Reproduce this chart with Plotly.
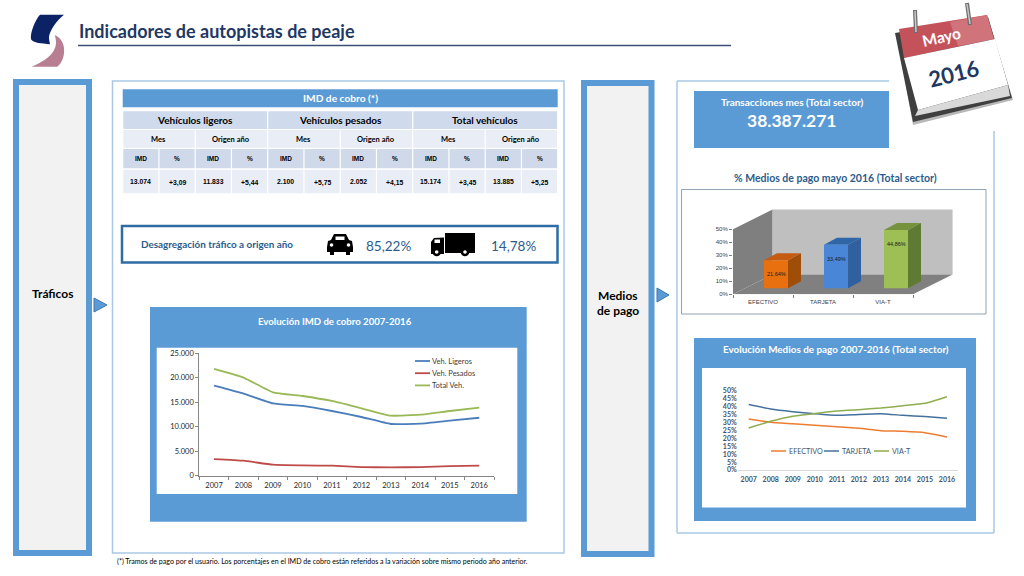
import plotly.graph_objects as go

W, H = 1024, 576
BLUE = "#5B9BD5"
LIGHT = "#A9C8E6"
NAVY = "#1F3864"
TEAL = "#2B5C8C"
SANS = "Lato"
ARIAL = "Liberation Sans"

years = ["2007", "2008", "2009", "2010", "2011", "2012", "2013", "2014", "2015", "2016"]

# IMD de cobro
imd_names = ["Veh. Ligeros", "Veh. Pesados", "Total Veh."]
imd_colors = ["#4A7EBB", "#BE4B48", "#98B954"]
ligeros = [18390, 16760, 14780, 14240, 13215, 11990, 10560, 10630, 11240, 11833]
pesados = [3400, 3065, 2250, 2110, 2040, 1770, 1700, 1770, 1975, 2052]
total = [21800, 20030, 17030, 16280, 15260, 13760, 12260, 12470, 13215, 13885]

# medios de pago
pago_names = ["EFECTIVO", "TARJETA", "VIA-T"]
pago_colors = ["#ED7D31", "#44719C", "#8FAD4F"]
efectivo = [32.3, 30.2, 29.3, 28.3, 27.4, 26.4, 24.9, 24.5, 23.6, 20.9]
tarjeta = [41.4, 38.6, 36.9, 35.6, 34.6, 35.2, 35.6, 34.6, 33.8, 32.7]
via_t = [26.6, 30.8, 34.0, 35.7, 37.3, 38.2, 39.2, 40.7, 42.2, 46.4]

mayo_pct = [21.64, 33.49, 44.86]
mayo_ticks = [0, 10, 20, 30, 40, 50]
bar_front = ["#E8700F", "#4A86D8", "#9DBF55"]
bar_side = ["#A04D08", "#30609F", "#5F7A33"]
bar_top = ["#C55A11", "#2E66A8", "#76923C"]

# tabla
grupos = ["Vehículos ligeros", "Vehículos pesados", "Total vehículos"]
periodos = ["Mes", "Origen año"] * 3
columnas = ["IMD", "%"] * 6
valores = ["13.074", "+3,09", "11.833", "+5,44", "2.100", "+5,75", "2.052", "+4,15",
           "15.174", "+3,45", "13.885", "+5,25"]

shapes = []
notes = []


def px(x):
    return x / W


def py(y):
    return 1 - y / H


def rect(x0, y0, x1, y1, fill=None, line=None, lw=1, layer="below"):
    shapes.append(dict(type="rect", xref="paper", yref="paper", x0=px(x0), x1=px(x1), y0=py(y0), y1=py(y1),
                       fillcolor=fill or "rgba(0,0,0,0)", line=dict(color=line or "rgba(0,0,0,0)", width=lw if line else 0),
                       layer=layer))


def seg(x0, y0, x1, y1, color, lw=1, layer="below"):
    shapes.append(dict(type="line", xref="paper", yref="paper", x0=px(x0), x1=px(x1), y0=py(y0), y1=py(y1),
                       line=dict(color=color, width=lw), layer=layer))


def poly(d, fill, line=None, layer="below"):
    # d is an svg path written in screen pixels, "M x y L x y ..."
    out = []
    nums = d.split()
    i = 0
    while i < len(nums):
        if nums[i] in "MLCZ":
            out.append(nums[i])
            i += 1
        else:
            out.append(f"{px(float(nums[i])):.5f},{py(float(nums[i + 1])):.5f}")
            i += 2
    shapes.append(dict(type="path", xref="paper", yref="paper", path=" ".join(out), fillcolor=fill,
                       line=dict(color=line or "rgba(0,0,0,0)", width=1 if line else 0), layer=layer))


def circle(cx, cy, r, fill, layer="below"):
    shapes.append(dict(type="circle", xref="paper", yref="paper", x0=px(cx - r), x1=px(cx + r), y0=py(cy - r),
                       y1=py(cy + r), fillcolor=fill, line=dict(width=0), layer=layer))


def txt(x, y, s, size, color="black", bold=False, anchor="center", font=SANS, angle=0):
    notes.append(dict(xref="paper", yref="paper", x=px(x), y=py(y), text=f"<b>{s}</b>" if bold else s,
                      showarrow=False, xanchor=anchor, yanchor="middle", textangle=angle, borderpad=0,
                      font=dict(size=size, color=color, family=font)))


def dom(a, b):
    return [a / W, b / W]


def domy(top, bottom):
    return [1 - bottom / H, 1 - top / H]


# cabecera
poly("M 40 14.7 L 64 14.7 C 57 20 50 30 49 36.7 C 48.7 40 50 42.7 50 44.3 C 41.7 43.3 33.3 43.3 31 39.3 "
     "C 30 33 35 20 40 14.7 Z", "#0B2265")
poly("M 55 35 C 61.7 38.3 65 45 64 53.3 C 63.3 60 60 65 57.3 66.7 L 31.7 66.7 C 43.3 61.7 55 55 56 43.3 "
     "C 56 39.3 55 36.7 55 35 Z", "#B87F92")
txt(77.5, 31, "Indicadores de autopistas de peaje", 18, NAVY, True, "left")
seg(78, 45.5, 731, 45.5, "#3B4F74", 1.5)

# panel traficos
rect(16, 82, 89, 553, "#F2F2F2", BLUE, 6)
txt(52, 293, "Tráficos", 12, "black", True)
poly("M 94 298 L 107 305 L 94 312 Z", BLUE, "#3F77AE")
rect(112.5, 81, 564, 553, "white", LIGHT, 1.5)

# tabla imd
tx0, cw = 122.7, 36.25
rect(tx0, 89.3, tx0 + 12 * cw, 107.3, BLUE)
txt(tx0 + 6 * cw, 98.5, "IMD de cobro (*)", 10.2, "white", True)
for i, g in enumerate(grupos):
    rect(tx0 + 4 * i * cw + 0.6, 111.3, tx0 + 4 * (i + 1) * cw - 0.6, 129, "#CFDAEC")
    txt(tx0 + (4 * i + 2) * cw, 120, g, 10, "black", True)
for i, p in enumerate(periodos):
    rect(tx0 + 2 * i * cw + 0.6, 130, tx0 + 2 * (i + 1) * cw - 0.6, 147.7, "#E9EDF5")
    txt(tx0 + (2 * i + 1) * cw, 139, p, 7.5, "black", True)
for i, c in enumerate(columnas):
    rect(tx0 + i * cw + 0.6, 149, tx0 + (i + 1) * cw - 0.6, 168.3, "#CFD9EA")
    txt(tx0 + (i + 0.5) * cw, 158.5, c, 6.5, "black", True, font=ARIAL)
for i, v in enumerate(valores):
    rect(tx0 + i * cw + 0.6, 169.7, tx0 + (i + 1) * cw - 0.6, 193.3, "#E9EDF5")
    # las celdas con "+" salen un poco mas altas
    txt(tx0 + (i + 0.5) * cw, 182.5 if v.startswith("+") else 181.5, v, 6.8, "black", True, font=ARIAL)

# desagregacion
rect(122, 226, 557.5, 262.5, "white", "#2E6CA4", 2.5)
txt(140, 244, "Desagregación tráfico a origen año", 9.9, TEAL, True, "left")
poly("M 327 247 L 328 241 L 331 240 L 334 234 L 346 234 L 349 240 L 352 241 L 353 247 L 353 252 L 350 252 "
     "L 350 255 L 346 255 L 346 252 L 334 252 L 334 255 L 330 255 L 330 252 L 327 252 Z", "black")
rect(335.5, 236.5, 344.5, 240, "white")
circle(331.5, 245, 1.8, "white")
circle(348.5, 245, 1.8, "white")
txt(388, 246, "85,22%", 13.5, TEAL, False)
rect(445, 233, 475, 253, "black")
poly("M 431 248 L 431 242 L 434 238 L 444 237.5 L 444 254 L 431 254 Z", "black")
rect(434.5, 239.5, 440, 243, "white")
for cx in (436.7, 465):
    circle(cx, 252, 4.3, "black")
    circle(cx, 252, 1.8, "white")
txt(513, 246, "14,78%", 13.5, TEAL, False)

# grafico imd
rect(150, 307, 526.7, 521.7, BLUE)
txt(335, 321, "Evolución IMD de cobro 2007-2016", 9.6, "white", True)
rect(156.7, 347.7, 517.3, 494, "white")
for i, n in enumerate(imd_names):
    y = 361 + i * 12.2
    seg(415, y, 430, y, imd_colors[i], 1.8)
    txt(431, y, n, 7.5, "#404040", False, "left")

# panel medios de pago
rect(584, 83, 651.5, 554, "#F2F2F2", BLUE, 6)
txt(618, 295, "Medios", 12, "black", True)
txt(618, 310, "de pago", 12, "black", True)
poly("M 657 288 L 669 295 L 657 302 Z", BLUE, "#3F77AE")
seg(677, 81, 889, 81, LIGHT, 1.5)
seg(677, 81, 677, 533, LIGHT, 1.5)
seg(677, 533, 994, 533, LIGHT, 1.5)
seg(994, 131, 994, 533, LIGHT, 1.5)

rect(694, 91, 889, 148, BLUE)
txt(791.5, 102, "Transacciones mes (Total sector)", 10, "white", True)
txt(791.5, 120, "38.387.271", 17.5, "white", True)
txt(835, 178, "% Medios de pago mayo 2016 (Total sector)", 10.5, TEAL, True)
rect(681.5, 189.5, 986, 314, "white", "#8FA3B5", 1)

# grafico evolucion medios
rect(694, 338, 976, 521, BLUE)
txt(835.5, 349, "Evolución Medios de pago 2007-2016 (Total sector)", 9.9, "white", True)
rect(702, 368, 966, 507.5, "white")
for n, c, x0 in zip(pago_names, pago_colors, (771, 824, 874)):
    seg(x0, 451, x0 + 15, 451, c, 1.5)
    txt(x0 + 16.5, 451, n, 7.2, "#44546A", False, "left")

# pie de pagina
txt(116, 561, "(*) Tramos de pago por el usuario. Los porcentajes en el IMD de cobro están referidos a la "
    "variación sobre mismo periodo año anterior.", 7.05, "black", False, "left")

fig = go.Figure()

for name, vals, col in zip(imd_names, [ligeros, pesados, total], imd_colors):
    fig.add_trace(go.Scatter(x=years, y=vals, name=name, mode="lines", line=dict(color=col, width=1.8, shape="spline", smoothing=0.4),
                             xaxis="x", yaxis="y", showlegend=False))
for name, vals, col in zip(pago_names, [efectivo, tarjeta, via_t], pago_colors):
    fig.add_trace(go.Scatter(x=years, y=vals, name=name, mode="lines", line=dict(color=col, width=1.5, shape="spline", smoothing=0.4),
                             xaxis="x2", yaxis="y2", showlegend=False))

# barras 3d: la cara frontal es la barra, las caras laterales salen de los mismos valores
bar_dx, bar_dy = 13 / 60, 5.4
bar_base, bar_w = 4.6, 0.4
wall_dx, wall_dy = 0.66, 15.2
wall_top = 50 + wall_dy
bar_x = [i + bar_dx for i in range(len(pago_names))]


def face(pts, color):
    d = "M " + " L ".join(f"{a:.3f},{b:.3f}" for a, b in pts) + " Z"
    shapes.append(dict(type="path", xref="x3", yref="y3", path=d, fillcolor=color, line=dict(width=0), layer="below"))


face([(-0.5, 0), (-0.5, 50), (-0.5 + wall_dx, wall_top), (-0.5 + wall_dx, wall_dy)], "#7F7F7F")
face([(-0.5 + wall_dx, wall_dy), (-0.5 + wall_dx, wall_top), (2.5 + wall_dx, wall_top), (2.5 + wall_dx, wall_dy)], "#BFBFBF")
face([(-0.5, 0), (2.5, 0), (2.5 + wall_dx, wall_dy), (-0.5 + wall_dx, wall_dy)], "#808080")
for x, v, s, t in zip(bar_x, mayo_pct, bar_side, bar_top):
    right = x + bar_w / 2
    left = x - bar_w / 2
    top = bar_base + v
    face([(right, bar_base), (right + bar_dx, bar_base + bar_dy), (right + bar_dx, top + bar_dy), (right, top)], s)
    face([(left, top), (right, top), (right + bar_dx, top + bar_dy), (left + bar_dx, top + bar_dy)], t)
    notes.append(dict(xref="x3", yref="y3", x=x, y=top, yshift=-14, showarrow=False, text=f"{v:.2f}%".replace(".", ","),
                      font=dict(size=5.5, color="#1a1a1a", family=ARIAL)))
fig.add_trace(go.Bar(x=bar_x, y=mayo_pct, base=bar_base, width=bar_w, marker=dict(color=bar_front, line=dict(width=0)),
                     xaxis="x3", yaxis="y3", showlegend=False))

fig.update_layout(
    width=W, height=H, autosize=False, margin=dict(l=0, r=0, t=0, b=0, pad=0),
    paper_bgcolor="white", plot_bgcolor="rgba(0,0,0,0)", separators=",.",
    shapes=shapes, annotations=notes, showlegend=False,
    xaxis=dict(domain=dom(199.3, 494), type="category", range=[-0.5, 9.5], anchor="y", tickson="boundaries", ticks="outside", ticklen=3,
               tickcolor="#868686", showline=True, linecolor="#868686", linewidth=1, showgrid=False, zeroline=False, automargin=False,
               tickfont=dict(size=7.5, color="#262626", family=SANS), ticklabelstandoff=2),
    yaxis=dict(domain=domy(353.3, 475.7), range=[0, 25000], dtick=5000, tickformat=",d", anchor="x", ticks="outside", ticklen=3,
               tickcolor="#868686", showline=True, linecolor="#868686", linewidth=1, showgrid=False, zeroline=False, automargin=False,
               tickfont=dict(size=7.5, color="#262626", family=SANS)),
    xaxis2=dict(domain=dom(737.7, 958), type="category", range=[-0.5, 9.5], anchor="y2", ticks="", showline=True, linecolor="#D9D9D9",
                linewidth=1, showgrid=False, zeroline=False, automargin=False, ticklabelstandoff=3,
                tickfont=dict(size=7, color="#44546A", family=SANS, weight="bold")),
    yaxis2=dict(domain=domy(391, 470), range=[0, 50], dtick=5, ticksuffix="%", anchor="x2", ticks="", showline=False, showgrid=False,
                zeroline=False, automargin=False, tickfont=dict(size=7, color="#44546A", family=SANS, weight="bold")),
    xaxis3=dict(domain=dom(733, 733 + 60 * (3 + wall_dx + 0.02)), range=[-0.5, 2.5 + wall_dx + 0.02], anchor="y3", tickmode="array", tickvals=[0, 1, 2],
                ticktext=pago_names, ticks="", showline=False, showgrid=False, zeroline=False, automargin=False, ticklabelstandoff=3,
                minor=dict(tickmode="array", tickvals=[-0.5, 0.5, 1.5, 2.5], ticks="outside", ticklen=3, tickcolor="#808080"),
                tickfont=dict(size=6, color="#404040", family=ARIAL)),
    yaxis3=dict(domain=domy(294.3 - 1.3 * (wall_top + 0.5), 294.3), range=[0, wall_top + 0.5], anchor="x3", tickmode="array", tickvals=mayo_ticks,
                ticktext=[f"{t}%" for t in mayo_ticks], ticks="outside", ticklen=3, tickcolor="#808080", showline=False, showgrid=False, zeroline=False,
                automargin=False, tickfont=dict(size=6, color="#404040", family=ARIAL)),
)

# calendario, va por encima de todo
poly("M 897 36 L 988 17 L 1013 100 L 913 125 Z", "#B8B8B8", layer="above")
poly("M 895 33 L 988 17 L 1012 98 L 913 122 Z", "#3F3F3F", layer="above")
poly("M 899 29 L 987 15 L 994 39 L 904 58 Z", "#C4525A", layer="above")
poly("M 950 22 L 987 15 L 994 39 L 958 46 Z", "#D0737A", layer="above")
poly("M 904 58 L 995 39 L 1008 85 L 918 110 Z", "white", layer="above")
poly("M 918 110 L 1008 85 L 1010 96 L 915 116 Z", "#D9D9D9", layer="above")
for x0, y0, x1, y1 in [(915, 10, 916, 33), (967, 3, 970, 25)]:
    seg(x0, y0, x1, y1, "#6E6E6E", 4, "above")
    seg(x0, y0 + 1, x1, y1 - 1, "#C8C8C8", 1.5, "above")
txt(941, 37, "Mayo", 15.5, "white", True, angle=-13)
txt(953, 73, "2016", 22, NAVY, True, angle=-14)
fig.layout.shapes = shapes
fig.layout.annotations = notes

fig.write_html("out.html", config=dict(displayModeBar=False), post_script="document.body.style.margin='0';")
